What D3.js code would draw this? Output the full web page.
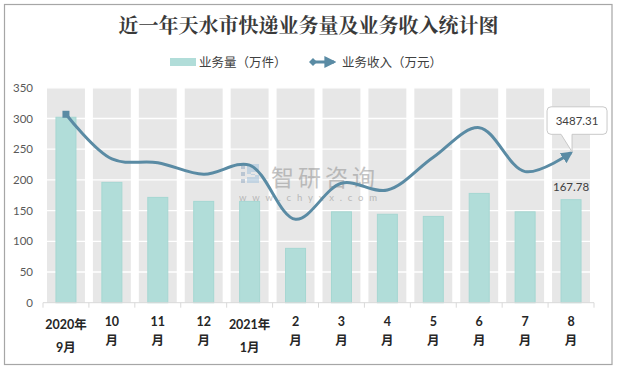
<!DOCTYPE html>
<html><head><meta charset="utf-8">
<script src="https://cdn.jsdelivr.net/npm/d3@7"></script>
<style>
html,body{margin:0;padding:0;background:#fff;}
svg{display:block;}
</style></head>
<body>
<svg id="chart" width="617" height="369"></svg>
<script>
const categories = ["2020年9月","10月","11月","12月","2021年1月","2月","3月","4月","5月","6月","7月","8月"];
const labelLines = [["2020年","9月"],["10","月"],["11","月"],["12","月"],["2021年","1月"],["2","月"],["3","月"],["4","月"],["5","月"],["6","月"],["7","月"],["8","月"]];
const volume = [302, 196, 171.5, 165, 165, 88.5, 148, 144, 140.5, 178, 148, 167.78];
const revenue = [4384, 3344, 3258, 2987, 3201, 1941, 2779, 2622, 3384, 4073, 3050, 3487.31];
const yTicks = [0,50,100,150,200,250,300,350];
const seriesNames = ["业务量（万件）","业务收入（万元）"];
const title = "近一年天水市快递业务量及业务收入统计图";

(function(){
const svg = d3.select("#chart");
const pL = 43, pR = 594, pT = 87.8, pB = 302.7;
const cjk = "'Noto Sans CJK SC','Noto Sans',sans-serif";
const num = "Lato,'Liberation Sans',sans-serif";
const lineColor = "#5a8ba4";

// border
svg.append("rect").attr("x",4.5).attr("y",4.5).attr("width",607.5).attr("height",360)
  .attr("fill","#fff").attr("stroke","#a6a6a6").attr("stroke-width",1.2);

const x = d3.scaleBand().domain(categories).range([pL,pR]).padding(0);
const y = d3.scaleLinear().domain([0,350]).range([pB,pT]);
const y2 = d3.scaleLinear().domain([0,5000]).range([pB,pT]);

// gray columns
svg.append("g").selectAll("rect").data(categories).join("rect")
  .attr("x",d=>x(d)+4).attr("y",pT).attr("width",x.bandwidth()-8).attr("height",pB-pT)
  .attr("fill","#e7e7e7");

// gridlines
svg.append("g").selectAll("line").data(yTicks.slice(1)).join("line")
  .attr("x1",pL).attr("x2",pR).attr("y1",d=>y(d)).attr("y2",d=>y(d))
  .attr("stroke","#fff").attr("stroke-width",1.3);

// y axis labels
const ya = svg.append("g").attr("transform",`translate(${pL},0)`)
  .call(d3.axisLeft(y).tickValues(yTicks).tickSize(0).tickPadding(10));
ya.select(".domain").remove();
ya.selectAll("text").attr("font-family",num).attr("font-size",11.5).attr("fill","#595959");

// bars
const bw = 20;
svg.append("g").selectAll("rect").data(volume).join("rect")
  .attr("x",(d,i)=>x(categories[i])+x.bandwidth()/2-bw/2)
  .attr("y",d=>y(d)).attr("width",bw).attr("height",d=>pB-y(d))
  .attr("fill","#b1ddd9").attr("stroke","#a5d7d2").attr("stroke-width",1);

// x axis line + ticks
svg.append("line").attr("x1",pL).attr("x2",pR).attr("y1",pB).attr("y2",pB)
  .attr("stroke","#d9d9d9").attr("stroke-width",1);
const bounds = categories.map(c=>x(c)).concat([pR]);
svg.append("g").selectAll("line").data(bounds).join("line")
  .attr("x1",d=>d).attr("x2",d=>d).attr("y1",pB).attr("y2",pB+5)
  .attr("stroke","#d9d9d9").attr("stroke-width",1);

// x labels
const xl = svg.append("g");
labelLines.forEach((lines,i)=>{
  const cx = x(categories[i])+x.bandwidth()/2;
  const isYear = lines[0].indexOf("年")>=0;
  const ya1 = isYear ? 329 : 325.5;
  const ya2 = isYear ? 352 : 345;
  lines.forEach((t,j)=>{
    xl.append("text").attr("x",cx).attr("y",j===0?ya1:ya2).attr("text-anchor","middle")
      .attr("font-family",num+","+cjk).attr("font-weight","bold").attr("font-size",12.5)
      .attr("fill","#262626").text(t);
  });
});

// watermark
const wm = svg.append("g").attr("opacity",0.5);
wm.append("rect").attr("x",241).attr("y",165).attr("width",4).attr("height",4).attr("fill","#8fa6c0");
wm.append("rect").attr("x",241).attr("y",172).attr("width",4).attr("height",4).attr("fill","#8fa6c0");
wm.append("rect").attr("x",241).attr("y",179).attr("width",4).attr("height",4).attr("fill","#8fa6c0");
wm.append("path").attr("d","M247,164 h12 v8 h-8 v3 h8 v8 h-12 v-6 h8 v-3 h-8z").attr("fill","#9fc0dc");
wm.append("text").attr("x",271).attr("y",185.5).attr("font-family",cjk).attr("font-size",23)
  .attr("letter-spacing",4).attr("fill","#8a8a8a").text("智研咨询");
wm.append("text").attr("x",239).attr("y",200.5).attr("font-family",num).attr("font-size",9.5)
  .attr("letter-spacing",5.8).attr("fill","#8a8a8a").text("www.chyxx.com");

// arrow marker
const defs = svg.append("defs");
defs.append("marker").attr("id","arrow").attr("viewBox","0 0 10 10").attr("refX",8).attr("refY",5)
  .attr("markerWidth",4).attr("markerHeight",4).attr("orient","auto")
  .append("path").attr("d","M0,0 L10,5 L0,10 z").attr("fill",lineColor);

// revenue line
const line = d3.line()
  .x((d,i)=>x(categories[i])+x.bandwidth()/2)
  .y(d=>y2(d))
  .curve(d3.curveCatmullRom.alpha(0.5));
svg.append("path").datum(revenue).attr("d",line).attr("fill","none")
  .attr("stroke",lineColor).attr("stroke-width",3).attr("marker-end","url(#arrow)");
const px0 = x(categories[0])+x.bandwidth()/2, py0 = y2(revenue[0]);
svg.append("rect").attr("x",px0-3.5).attr("y",py0-3.5).attr("width",7).attr("height",7).attr("fill",lineColor);

// callout for last revenue
const lx = x(categories[11])+x.bandwidth()/2, ly = y2(revenue[11]);
const bx0 = lx-24, bx1 = lx+36, by0 = ly-46, by1 = ly-18.5, r = 4;
svg.append("path").attr("d",
  `M${bx0+r},${by0} H${bx1-r} Q${bx1},${by0} ${bx1},${by0+r} V${by1-r} Q${bx1},${by1} ${bx1-r},${by1}
   H${lx+1} L${lx+1},${ly-1} L${lx-10},${by1} H${bx0+r} Q${bx0},${by1} ${bx0},${by1-r} V${by0+r} Q${bx0},${by0} ${bx0+r},${by0} Z`)
  .attr("fill","#fff").attr("stroke","#c9c9c9").attr("stroke-width",1);
svg.append("text").attr("x",(bx0+bx1)/2).attr("y",by0+18).attr("text-anchor","middle")
  .attr("font-family",num).attr("font-size",11.5).attr("fill","#404040").text(revenue[11].toFixed(2));

// bar label
svg.append("text").attr("x",x(categories[11])+x.bandwidth()/2).attr("y",y(volume[11])-9)
  .attr("text-anchor","middle").attr("font-family",num).attr("font-size",11.5).attr("fill","#404040")
  .text(volume[11].toFixed(2));

// title
svg.append("text").attr("x",308.5).attr("y",33).attr("text-anchor","middle")
  .attr("font-family","'Noto Serif CJK SC','Noto Sans CJK SC',serif").attr("font-weight","bold")
  .attr("font-size",20).attr("fill","#3a3a3a").text(title);

// legend
const lg = svg.append("g");
lg.append("rect").attr("x",170).attr("y",58).attr("width",26).attr("height",8).attr("fill","#b1ddd9");
lg.append("text").attr("x",199).attr("y",66.5).attr("font-family",cjk).attr("font-size",12.5)
  .attr("fill","#404040").text(seriesNames[0]);
lg.append("line").attr("x1",312).attr("x2",334).attr("y1",62).attr("y2",62).attr("stroke",lineColor).attr("stroke-width",3)
  .attr("marker-end","url(#arrow)");
lg.append("path").attr("d","M309,62 l4,-4 l4,4 l-4,4z").attr("fill",lineColor);
lg.append("text").attr("x",342).attr("y",66.5).attr("font-family",cjk).attr("font-size",12.5)
  .attr("fill","#404040").text(seriesNames[1]);
})();
</script>
</body></html>
